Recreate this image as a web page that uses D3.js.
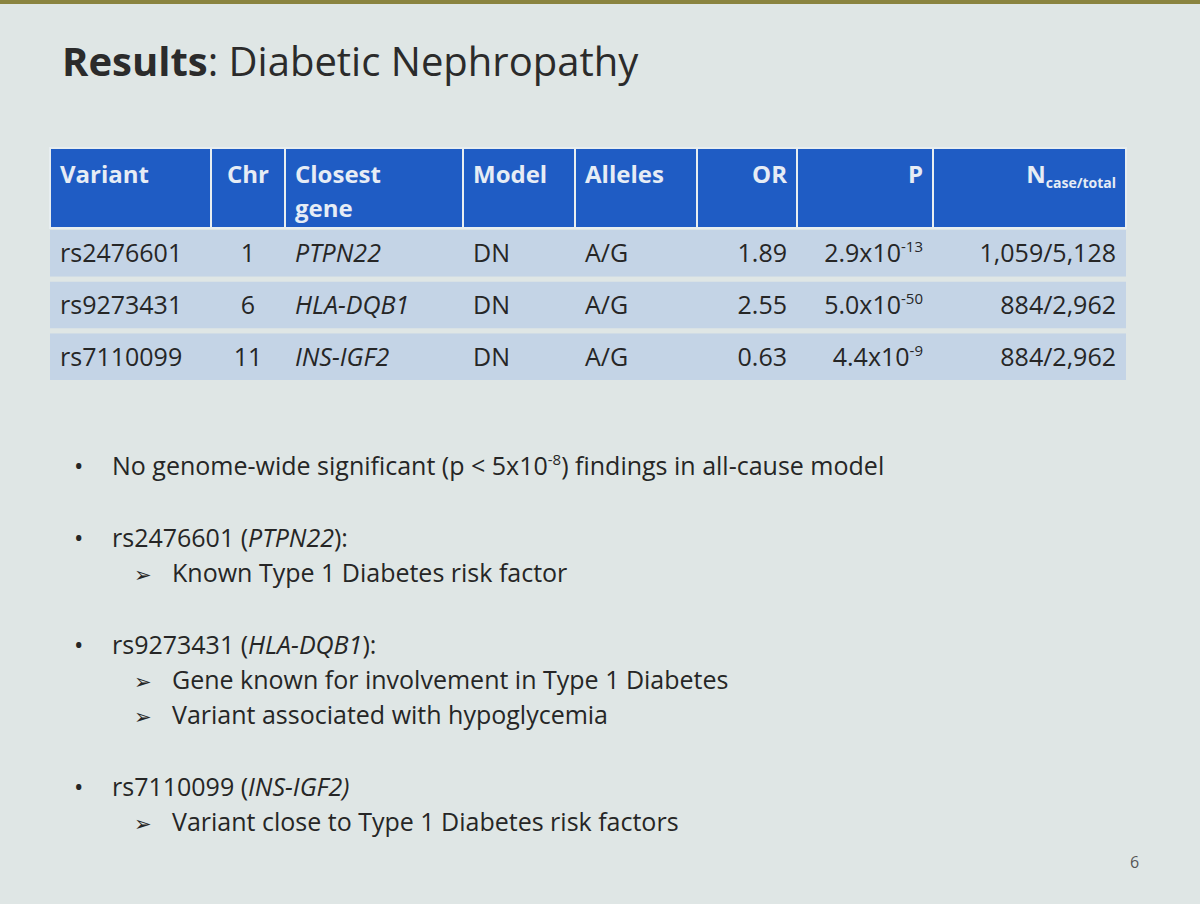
<!DOCTYPE html>
<html><head><meta charset="utf-8">
<script src="https://d3js.org/d3.v7.min.js"></script>
<style>body{margin:0;background:#dfe6e5;}svg{display:block;}</style>
</head><body>
<script>
// table data
const headers = ["Variant", "Chr", "Closest|gene", "Model", "Alleles", "OR", "P", "N"];
const variants = ["rs2476601", "rs9273431", "rs7110099"];
const chromosomes = ["1", "6", "11"];
const genes = ["PTPN22", "HLA-DQB1", "INS-IGF2"];
const models = ["DN", "DN", "DN"];
const alleles = ["A/G", "A/G", "A/G"];
const oddsRatios = [1.89, 2.55, 0.63];
const pMantissa = ["2.9", "5.0", "4.4"];
const pExponent = ["-13", "-50", "-9"];
const nCounts = ["1,059/5,128", "884/2,962", "884/2,962"];

const bullets = [
  {text: "No genome-wide significant (p < 5x10|-8|) findings in all-cause model", subs: []},
  {text: "rs2476601 (_PTPN22_):", subs: ["Known Type 1 Diabetes risk factor"]},
  {text: "rs9273431 (_HLA-DQB1_):", subs: ["Gene known for involvement in Type 1 Diabetes", "Variant associated with hypoglycemia"]},
  {text: "rs7110099 (_INS-IGF2)_", subs: ["Variant close to Type 1 Diabetes risk factors"]}
];

const W = 1200, H = 904;
const FONT = "'Liberation Sans Narrow', 'Open Sans', sans-serif";
const svg = d3.select("body").append("svg").attr("width", W).attr("height", H);

svg.append("rect").attr("width", W).attr("height", 4).attr("fill", "#8a8440");

svg.append("text").attr("x", 62).attr("y", 76).attr("font-family", FONT)
  .attr("font-size", 40).attr("fill", "#2b2b2b")
  .call(t => {
    t.append("tspan").attr("font-weight", "bold").text("Results");
    t.append("tspan").text(": Diabetic Nephropathy");
  });

// column layout
const edges = [50, 211, 285, 463, 575, 697, 797, 933, 1126];
const align = ["start", "middle", "start", "start", "start", "end", "end", "end"];
const x = d3.scaleOrdinal().domain(d3.range(8)).range(edges.slice(0, 8));
const xr = d3.scaleOrdinal().domain(d3.range(8)).range(edges.slice(1));
const y = d3.scaleBand().domain(d3.range(3)).range([230, 380]).paddingInner(0.1);

const g = svg.append("g").attr("font-family", FONT);
const cols = d3.range(8);
g.selectAll("rect.h").data(cols).join("rect")
  .attr("x", i => x(i)).attr("y", 148)
  .attr("width", i => xr(i) - x(i)).attr("height", 80)
  .attr("fill", "#1f5cc4").attr("stroke", "#e8eef0").attr("stroke-width", 2);

function tx(i) {
  return align[i] === "start" ? x(i) + 10 : align[i] === "end" ? xr(i) - 10 : (x(i) + xr(i)) / 2;
}
g.selectAll("text.h").data(headers).join("text")
  .attr("x", (d, i) => tx(i)).attr("y", 183).attr("text-anchor", (d, i) => align[i])
  .attr("fill", "#e6ecf5").attr("font-weight", "bold").attr("font-size", 24)
  .each(function (d, i) {
    const t = d3.select(this);
    if (i === 7) {
      t.append("tspan").text("N");
      t.append("tspan").attr("font-size", 14).attr("dy", 5).text("case/total");
    } else d.split("|").forEach((s, k) => t.append("tspan").attr("x", tx(i)).attr("dy", k ? 34 : 0).text(s));
  });

const rows = d3.range(3);
g.selectAll("rect.r").data(rows).join("rect")
  .attr("x", 50).attr("y", r => y(r)).attr("width", 1076).attr("height", y.bandwidth())
  .attr("fill", "#c4d4e6");

rows.forEach(r => {
  const cells = [variants[r], chromosomes[r], genes[r], models[r], alleles[r], oddsRatios[r].toFixed(2), null, nCounts[r]];
  cells.forEach((c, i) => {
    const t = g.append("text").attr("x", tx(i)).attr("y", y(r) + y.bandwidth() / 2 + 9)
      .attr("text-anchor", align[i]).attr("font-size", 25).attr("fill", "#262626");
    if (i === 2) t.attr("font-style", "italic");
    if (i === 6) {
      t.append("tspan").text(pMantissa[r] + "x10");
      t.append("tspan").attr("font-size", 15).attr("dy", -10).text(pExponent[r]);
    } else t.text(c);
  });
});

// bullet points
const b = svg.append("g").attr("font-family", FONT).attr("font-size", 25).attr("fill", "#262626");
let yy = 475;
function rich(t, s) {
  s.split("|").forEach((part, k) => {
    if (k % 2 === 1) { t.append("tspan").attr("font-size", 15).attr("dy", -10).text(part); return; }
    part.split("_").forEach((p, j) => {
      const sp = t.append("tspan").text(p);
      if (j % 2 === 1) sp.attr("font-style", "italic");
      if (k > 0 && j === 0) sp.attr("dy", 10);
    });
  });
}
bullets.forEach((bl, i) => {
  b.append("text").attr("x", 74).attr("y", yy).text("•");
  rich(b.append("text").attr("x", 112).attr("y", yy), bl.text);
  bl.subs.forEach((s, k) => {
    const ys = yy + 35 * (k + 1);
    b.append("text").attr("x", 134).attr("y", ys).attr("font-size", 21).text("➢");
    b.append("text").attr("x", 172).attr("y", ys).text(s);
  });
  yy += 35 * bl.subs.length + 72;
});

svg.append("text").attr("x", 1130).attr("y", 868).attr("font-family", FONT)
  .attr("font-size", 16).attr("fill", "#555").text("6");
</script>
</body></html>
